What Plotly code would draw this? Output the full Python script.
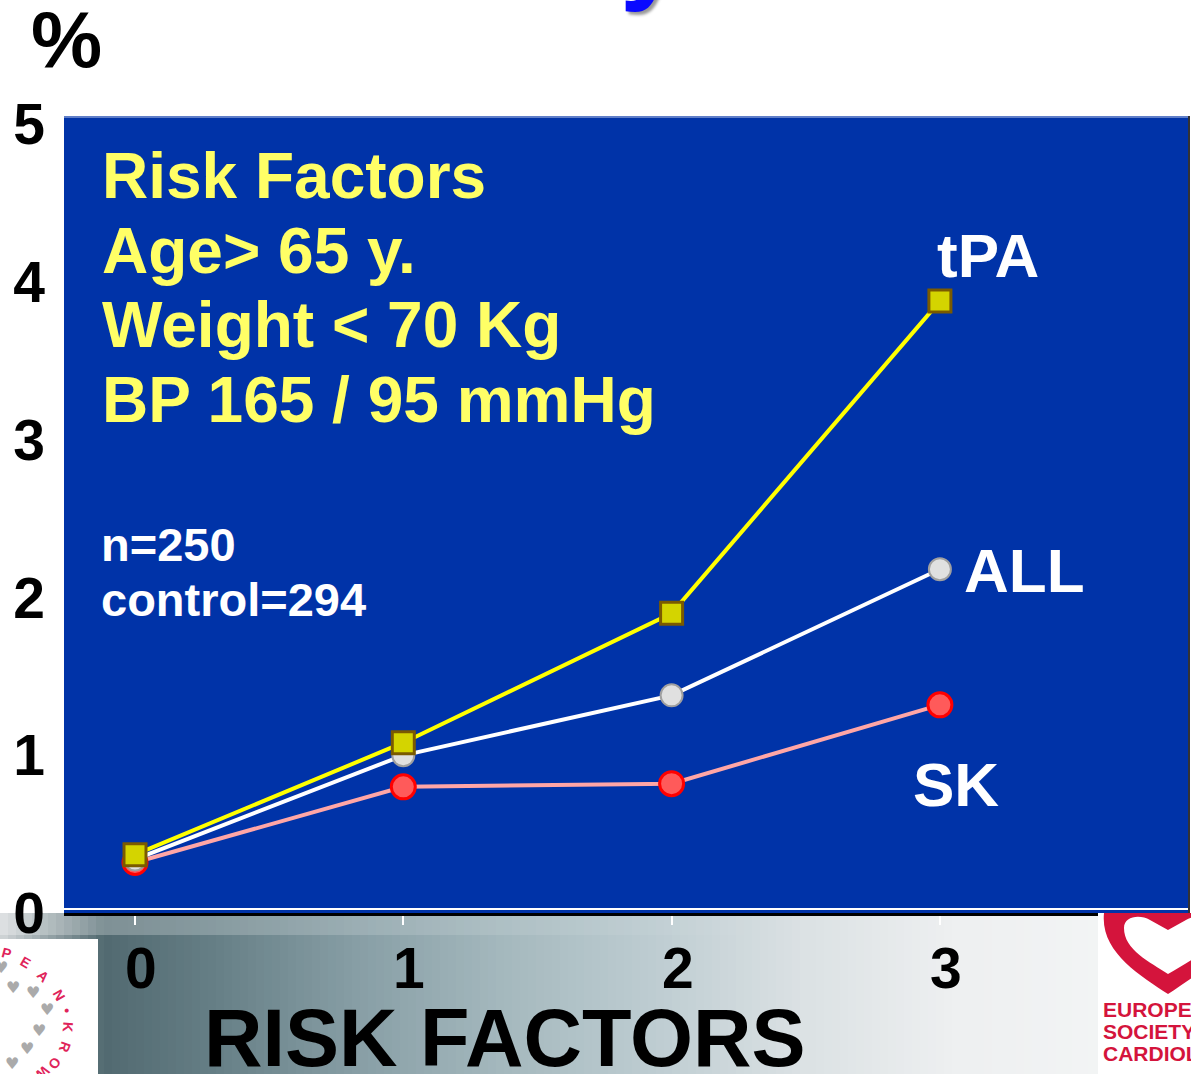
import plotly.graph_objects as go

# ---- data -------------------------------------------------------------
risk_factors = [0, 1, 2, 3]
tpa_pct = [0.37, 1.08, 1.90, 3.88]
all_pct = [0.34, 1.00, 1.38, 2.18]
sk_pct = [0.32, 0.80, 0.82, 1.32]
y_ticks = [0, 1, 2, 3, 4, 5]
x_tick_labels = ["0", "1", "2", "3"]

info_lines = ["Risk Factors", "Age> 65 y.", "Weight < 70 Kg", "BP 165 / 95 mmHg"]
count_lines = ["n=250", "control=294"]

# ---- page geometry (pixels) -------------------------------------------
W, H = 1191, 1074
L, R, T, B = 64, 1188, 116, 913          # plot-area edges


def px(x):
    return (x - L) / (R - L)


def py(y):
    return (B - y) / (B - T)


FONT = "Arial, Liberation Sans, sans-serif"
BLUE = "#0033a8"

fig = go.Figure()

fig.add_trace(go.Scatter(
    x=risk_factors, y=sk_pct, mode="lines+markers", name="SK",
    line=dict(color="#ffa6a6", width=4),
    marker=dict(symbol="circle", size=24, color="#ff5a5a",
                line=dict(color="#ff0000", width=3)),
))
fig.add_trace(go.Scatter(
    x=risk_factors, y=all_pct, mode="lines+markers", name="ALL",
    line=dict(color="#ffffff", width=4),
    marker=dict(symbol="circle", size=22, color="#e0e0e0",
                line=dict(color="#a0a0a0", width=2)),
))
fig.add_trace(go.Scatter(
    x=risk_factors, y=tpa_pct, mode="lines+markers", name="tPA",
    line=dict(color="#ffff00", width=4),
    marker=dict(symbol="square", size=22, color="#d4d400",
                line=dict(color="#7a5a00", width=3)),
))

shapes = []

# grey-teal band along the bottom of the slide
band = [(0, (205, 210, 212)), (100, (82, 106, 113)), (200, (100, 125, 132)),
        (350, (135, 158, 165)), (500, (165, 185, 190)), (650, (190, 205, 210)),
        (800, (220, 226, 228)), (950, (238, 240, 241)), (1191, (246, 247, 247))]
step = 8
for x0 in range(0, W, step):
    for (a, ca), (b, cb) in zip(band[:-1], band[1:]):
        if a <= x0 < b:
            t = (x0 - a) / (b - a)
            c = tuple(int(ca[i] + (cb[i] - ca[i]) * t) for i in range(3))
            break
    # a softer sheen along the top strip, fading out to the right
    sheen = max(0.0, 0.3 * (1 - x0 / 800))
    shapes.append(dict(type="rect", xref="paper", yref="paper", layer="below",
                       x0=px(x0), x1=px(min(x0 + step + 1, W)), y0=py(B), y1=py(H),
                       fillcolor="rgb(%d,%d,%d)" % c, line=dict(width=0)))
    if sheen > 0:
        shapes.append(dict(type="rect", xref="paper", yref="paper", layer="below",
                           x0=px(x0), x1=px(min(x0 + step + 1, W)), y0=py(B), y1=py(935),
                           fillcolor="rgba(255,255,255,%.3f)" % sheen, line=dict(width=0)))

# white line just above the black baseline, edges of the panel
shapes.append(dict(type="line", xref="paper", yref="paper",
                   x0=0, x1=1, y0=py(909), y1=py(909),
                   line=dict(color="white", width=2)))
shapes.append(dict(type="line", xref="paper", yref="paper",
                   x0=px(1189), x1=px(1189), y0=0, y1=1,
                   line=dict(color="#333333", width=2)))
shapes.append(dict(type="line", xref="paper", yref="paper",
                   x0=0, x1=1, y0=py(117), y1=py(117),
                   line=dict(color="#7f99d3", width=1.5)))

# left logo panel
shapes.append(dict(type="rect", xref="paper", yref="paper",
                   x0=px(0), x1=px(98), y0=py(939), y1=py(H),
                   fillcolor="white", line=dict(width=0)))


def path(cmds):
    out = []
    for tok in cmds:
        if isinstance(tok, str):
            out.append(tok)
        else:
            out.append("%.5f,%.5f" % (px(tok[0]), py(tok[1])))
    return " ".join(out)


# ESC heart logo (right)
shapes.append(dict(type="rect", xref="paper", yref="paper",
                   x0=px(1098), x1=px(W), y0=py(B), y1=py(H),
                   fillcolor="white", line=dict(width=0)))
shapes.append(dict(type="path", xref="paper", yref="paper",
                   path=path(["M", (1104, 913), "C", (1100, 952), (1140, 975), (1168, 994),
                              "C", (1196, 975), (1236, 952), (1236, 913), "Z"]),
                   fillcolor="#d4143c", line=dict(width=0)))
shapes.append(dict(type="path", xref="paper", yref="paper",
                   path=path(["M", (1124, 928), "C", (1124, 950), (1150, 962), (1168, 974),
                              "C", (1188, 962), (1214, 950), (1214, 928),
                              "C", (1214, 916), (1195, 914), (1186, 920),
                              "L", (1168, 930), "L", (1150, 920),
                              "C", (1140, 914), (1124, 916), (1124, 928), "Z"]),
                   fillcolor="white", line=dict(width=0)))
shapes.append(dict(type="circle", xref="paper", yref="paper",
                   x0=px(1160), x1=px(1171), y0=py(913), y1=py(924),
                   fillcolor="#d4143c", line=dict(width=0)))

annotations = []

# percent sign above the y axis
annotations.append(dict(text="<b>%</b>", xref="paper", yref="paper",
                        x=px(66), y=py(40), xanchor="center", yanchor="middle",
                        showarrow=False, font=dict(family=FONT, size=80, color="black")))

# cut-off title glyph at the top edge
annotations.append(dict(text="<b>y</b>", xref="paper", yref="paper",
                        x=px(650), y=py(14), xanchor="center", yanchor="bottom",
                        showarrow=False,
                        font=dict(family=FONT, size=110, color="#0a0aff",
                                  shadow="3px 3px 3px #999999")))

# risk-factor definitions
for i, line in enumerate(info_lines):
    annotations.append(dict(text="<b>%s</b>" % line, xref="paper", yref="paper",
                            x=px(100), y=py(176 + 74.5 * i), xanchor="left", yanchor="middle",
                            showarrow=False,
                            font=dict(family=FONT, size=64, color="#ffff66")))
for i, line in enumerate(count_lines):
    annotations.append(dict(text="<b>%s</b>" % line, xref="paper", yref="paper",
                            x=px(99), y=py(544 + 55 * i), xanchor="left", yanchor="middle",
                            showarrow=False,
                            font=dict(family=FONT, size=47, color="white")))

# series labels
for txt, x, y in [("tPA", 935, 256), ("ALL", 962, 570), ("SK", 911, 784)]:
    annotations.append(dict(text="<b>%s</b>" % txt, xref="paper", yref="paper",
                            x=px(x), y=py(y), xanchor="left", yanchor="middle",
                            showarrow=False, font=dict(family=FONT, size=62, color="white")))

# x-axis tick labels, placed on the axis positions
for v, lab in zip(risk_factors, x_tick_labels):
    annotations.append(dict(text="<b>%s</b>" % lab, xref="x", yref="paper",
                            x=v, y=py(968), xanchor="center", yanchor="middle", xshift=6,
                            showarrow=False, font=dict(family=FONT, size=57, color="black")))

# x-axis title
annotations.append(dict(text="<b>RISK FACTORS</b>", xref="paper", yref="paper",
                        x=px(505), y=py(1038), xanchor="center", yanchor="middle",
                        showarrow=False,
                        font=dict(family=FONT, size=81, color="black")))

# network logo lettering and hearts (left)
for ch, x, y, ang in [("P", 6, 953, 15), ("E", 25, 962, 30), ("A", 43, 976, 45),
                      ("N", 59, 995, 60), ("•", 67, 1010, 80), ("K", 68, 1027, 95),
                      ("R", 65, 1047, 110), ("O", 55, 1063, 125), ("W", 42, 1073, 140)]:
    annotations.append(dict(text="<b>%s</b>" % ch, xref="paper", yref="paper",
                            x=px(x), y=py(y), xanchor="center", yanchor="middle",
                            textangle=ang, showarrow=False,
                            font=dict(family=FONT, size=14, color="#e0245a")))
for x, y in [(1, 967), (13, 987), (33, 993), (47, 1009), (39, 1030), (27, 1048), (12, 1063)]:
    annotations.append(dict(text="♥", xref="paper", yref="paper",
                            x=px(x), y=py(y), xanchor="center", yanchor="middle",
                            showarrow=False,
                            font=dict(family="DejaVu Sans", size=16, color="#aaaaaa")))

# ESC lettering (right)
for txt, y in [("EUROPEAN", 1009), ("SOCIETY OF", 1031), ("CARDIOLOGY", 1053)]:
    annotations.append(dict(text="<b>%s</b>" % txt, xref="paper", yref="paper",
                            x=px(1101), y=py(y), xanchor="left", yanchor="middle",
                            showarrow=False,
                            font=dict(family=FONT, size=21, color="#d4143c")))

x_unit = 268.3
fig.update_layout(
    width=W, height=H,
    margin=dict(l=L, r=W - R, t=T, b=H - B, pad=0),
    paper_bgcolor="white",
    plot_bgcolor=BLUE,
    showlegend=False,
    shapes=shapes,
    annotations=annotations,
    xaxis=dict(
        range=[(L - 135) / x_unit, (R - 135) / x_unit],
        tickvals=risk_factors, showticklabels=False,
        ticks="outside", ticklen=9, tickwidth=2, tickcolor="white",
        showgrid=False, zeroline=False,
        showline=True, linecolor="black", linewidth=3,
        fixedrange=True,
    ),
    yaxis=dict(
        range=[0, (B - T) / 157.7],
        tickvals=y_ticks, ticktext=[str(v) for v in y_ticks],
        ticks="", tickfont=dict(family=FONT, size=57, color="black", weight="bold"),
        ticklabelstandoff=18,
        showgrid=False, zeroline=False, showline=False,
        fixedrange=True,
    ),
)

fig.write_html("out.html")
